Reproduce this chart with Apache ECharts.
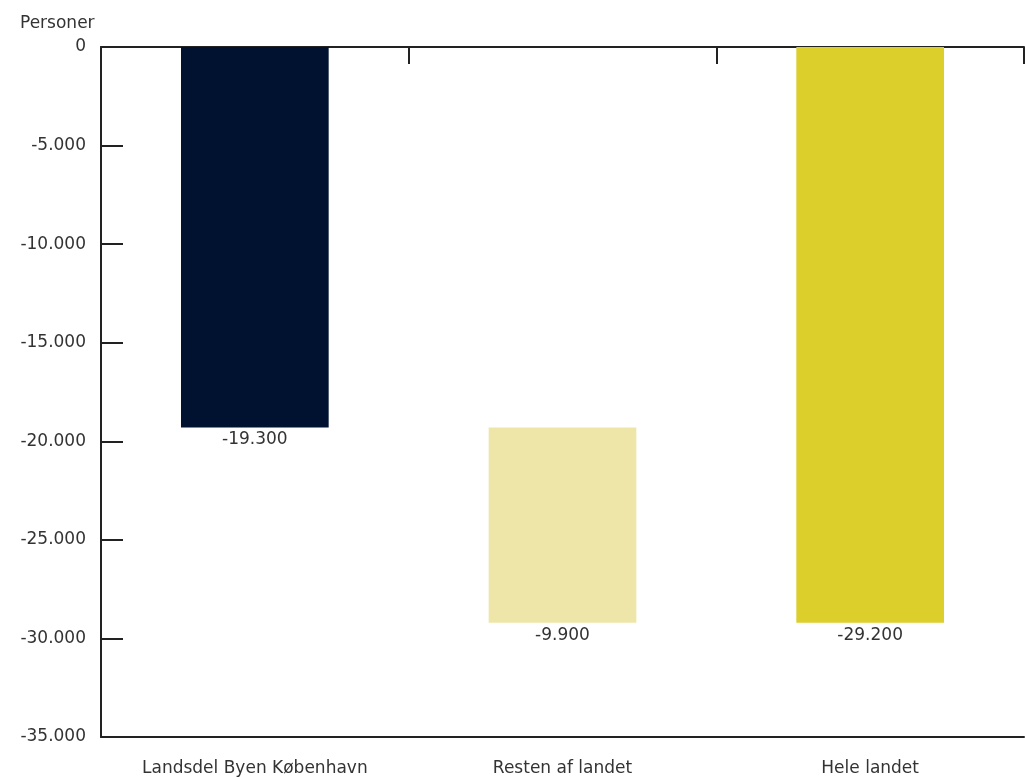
<!DOCTYPE html>
<html><head><meta charset="utf-8">
<script src="https://cdn.jsdelivr.net/npm/echarts@6/dist/echarts.min.js"></script>
<style>html,body{margin:0;padding:0;background:#fff}#c{width:1025px;height:777px}</style>
</head><body><div id="c"></div>
<script>
const categories = ['Landsdel Byen København', 'Resten af landet', 'Hele landet'];
const changes = [-19300, -9900, -29200];
const bases = [0, -19300, 0];
const colors = ['#001230', '#EEE6A8', '#DCCF2B'];
const yTitle = 'Personer';

function fmt(v) {
  const s = Math.abs(v).toString().replace(/\B(?=(\d{3})+(?!\d))/g, '.');
  return (v < 0 ? '-' : '') + s;
}
const FONT = '"DejaVu Sans", sans-serif';
const FS = 17;
const chart = echarts.init(document.getElementById('c'), null, {renderer: 'canvas'});
chart.setOption({
  animation: false,
  title: {text: yTitle, left: 15, top: 10, textStyle: {fontFamily: FONT, fontSize: FS, fontWeight: 'normal', color: '#333'}},
  grid: {left: 101, right: 1, top: 47, bottom: 40, containLabel: false},
  xAxis: [{
    type: 'category', data: categories, position: 'bottom',
    axisLine: {show: true, onZero: false, lineStyle: {color: '#222', width: 2}},
    axisTick: {show: false},
    axisLabel: {fontFamily: FONT, fontSize: FS, color: '#333', margin: 23}
  }, {
    type: 'category', data: categories, position: 'top',
    axisLine: {show: true, onZero: false, lineStyle: {color: '#222', width: 2}},
    axisTick: {show: true, inside: true, length: 17, alignWithLabel: false, lineStyle: {color: '#222', width: 2}},
    axisLabel: {show: false}
  }],
  yAxis: {
    type: 'value', min: -35000, max: 0, interval: 5000,
    axisLine: {show: true, lineStyle: {color: '#222', width: 2}},
    axisTick: {show: true, inside: true, length: 22, lineStyle: {color: '#222', width: 2}},
    splitLine: {show: false},
    axisLabel: {fontFamily: FONT, fontSize: FS, color: '#333', margin: 15, formatter: fmt}
  },
  series: [{
    type: 'bar', stack: 'w', data: bases, barWidth: '48%',
    itemStyle: {color: 'transparent'}, silent: true
  }, {
    type: 'bar', stack: 'w', barWidth: '48%',
    data: changes.map((v, i) => ({value: v, itemStyle: {color: colors[i]}})),
    label: {show: true, position: 'bottom', distance: 4, fontFamily: FONT, fontSize: FS, color: '#333', formatter: p => fmt(p.value)}
  }]
});
</script></body></html>
